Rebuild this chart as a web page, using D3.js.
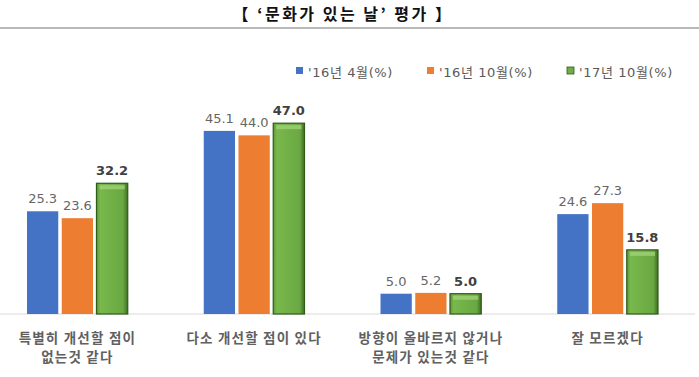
<!DOCTYPE html>
<html>
<head>
<meta charset="utf-8">
<script src="https://cdn.jsdelivr.net/npm/d3@7"></script>
<style>
  body { margin: 0; background: #fff; }
  svg { display: block; font-family: "Noto Sans CJK KR", "Noto Sans", sans-serif; }
</style>
</head>
<body>
<svg width="699" height="377"></svg>
<script>
const width = 699, height = 377;

// data
const categories = ["특별히 개선할 점이|없는것 같다", "다소 개선할 점이 있다", "방향이 올바르지 않거나|문제가 있는것 같다", "잘 모르겠다"];
const seriesNames = ["'16년 4월(%)", "'16년 10월(%)", "'17년 10월(%)"];
const apr16 = [25.3, 45.1, 5.0, 24.6];
const oct16 = [23.6, 44.0, 5.2, 27.3];
const oct17 = [32.2, 47.0, 5.0, 15.8];
const seriesColors = ["#4472C4", "#ED7D31", "#70AD47"];

const values = [apr16, oct16, oct17];

const svg = d3.select("svg");

// gradient for the bevelled green bars
const defs = svg.append("defs");
const grad = defs.append("linearGradient").attr("id", "greenBevel")
    .attr("x1", 0).attr("x2", 1).attr("y1", 0).attr("y2", 0);
grad.append("stop").attr("offset", "0%").attr("stop-color", "#5d9a3a");
grad.append("stop").attr("offset", "12%").attr("stop-color", "#78b84c");
grad.append("stop").attr("offset", "85%").attr("stop-color", "#6aa842");
grad.append("stop").attr("offset", "100%").attr("stop-color", "#3f6e24");

// title
svg.append("text")
    .attr("x", 343)
    .attr("y", 20)
    .attr("text-anchor", "middle")
    .attr("font-size", "16px")
    .attr("font-weight", "bold")
    .attr("letter-spacing", "2.5px")
    .attr("fill", "#111")
    .text("【 ‘문화가 있는 날’ 평가 】");

svg.append("line")
    .attr("x1", 0).attr("x2", width)
    .attr("y1", 28).attr("y2", 28)
    .attr("stroke", "#a0a0a0")
    .attr("stroke-width", 1.5);

// scales
const x0 = d3.scaleBand()
    .domain(categories)
    .range([-11, 696])
    .paddingInner(0.43)
    .paddingOuter(0.215);

const x1 = d3.scaleBand()
    .domain(d3.range(seriesNames.length))
    .range([0, x0.bandwidth()])
    .paddingInner(0.1);

const y = d3.scaleLinear()
    .domain([0, 50])
    .range([314, 314 - 50 * 4.06]);

// baseline
svg.append("line")
    .attr("x1", 0).attr("x2", 695)
    .attr("y1", y(0)).attr("y2", y(0))
    .attr("stroke", "#d9d9d9")
    .attr("stroke-width", 1);

// bars
const groups = svg.selectAll(".grp")
    .data(categories)
    .enter().append("g")
    .attr("class", "grp")
    .attr("transform", d => `translate(${x0(d)},0)`);

groups.each(function(cat, ci) {
    const g = d3.select(this);
    seriesNames.forEach((s, si) => {
        const v = values[si][ci];
        const bx = x1(si), bw = x1.bandwidth();
        if (si === 2) {
            g.append("rect")
                .attr("x", bx).attr("y", y(v))
                .attr("width", bw).attr("height", y(0) - y(v))
                .attr("fill", "url(#greenBevel)")
                .attr("stroke", "#2f5a1a")
                .attr("stroke-width", 1.2);
            // top bevel highlight
            g.append("rect")
                .attr("x", bx + 3).attr("y", y(v) + 2)
                .attr("width", bw - 6).attr("height", 4)
                .attr("fill", "#9fd277")
                .attr("opacity", 0.8);
        } else {
            g.append("rect")
                .attr("x", bx).attr("y", y(v))
                .attr("width", bw).attr("height", y(0) - y(v))
                .attr("fill", seriesColors[si]);
        }
        g.append("text")
            .attr("x", bx + bw / 2)
            .attr("y", y(v) - 8)
            .attr("text-anchor", "middle")
            .attr("font-family", "DejaVu Sans, sans-serif")
            .attr("font-size", "13px")
            .attr("font-weight", si === 2 ? "bold" : "normal")
            .attr("fill", si === 2 ? "#404040" : "#666")
            .text(v.toFixed(1));
    });
});

// category labels
groups.append("text")
    .attr("x", x0.bandwidth() / 2)
    .attr("text-anchor", "middle")
    .attr("font-size", "13.5px")
    .attr("font-weight", "bold")
    .attr("letter-spacing", "1.2px")
    .attr("fill", "#606060")
    .selectAll("tspan")
    .data(d => d.split("|"))
    .enter().append("tspan")
    .attr("x", x0.bandwidth() / 2)
    .attr("y", (d, i) => 343 + i * 19)
    .text(d => d);

// legend
const legendX = [296, 427, 567];
const legend = svg.selectAll(".legend-item")
    .data(seriesNames)
    .enter().append("g")
    .attr("class", "legend-item")
    .attr("transform", (d, i) => `translate(${legendX[i]}, 72)`);

legend.append("rect")
    .attr("x", 0).attr("y", -5)
    .attr("width", 7).attr("height", 7)
    .attr("fill", (d, i) => seriesColors[i])
    .attr("stroke", (d, i) => i === 2 ? "#2f5a1a" : "none")
    .attr("stroke-width", 0.8);

legend.append("text")
    .attr("x", 12)
    .attr("y", 5)
    .attr("font-family", "DejaVu Sans, 'Noto Sans CJK KR', sans-serif")
    .attr("font-size", "13px")
    .attr("letter-spacing", "0.6px")
    .attr("fill", "#595959")
    .text(d => d);
</script>
</body>
</html>
